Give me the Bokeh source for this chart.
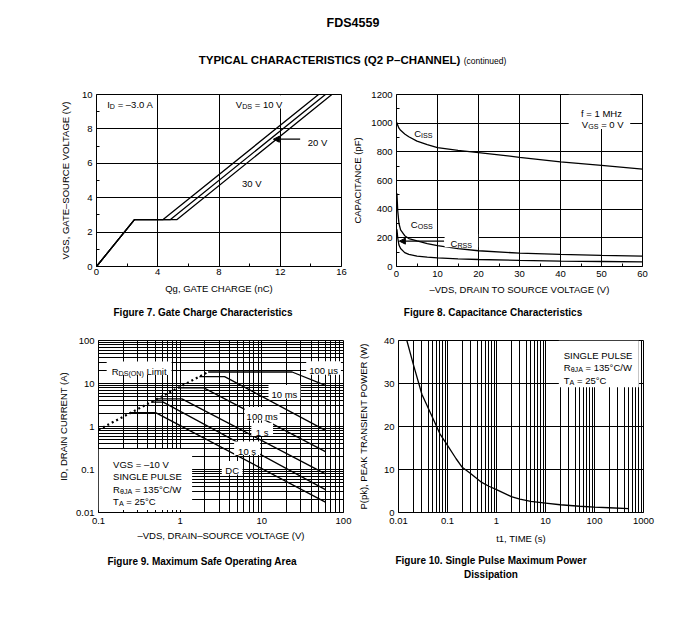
import math
from bokeh.plotting import figure
from bokeh.models import (Range1d, FixedTicker, NumeralTickFormatter, Label,
                          BoxAnnotation, Arrow, NormalHead, Div)
from bokeh.layouts import column, row
from bokeh.embed import file_html
from bokeh.resources import INLINE

FONT = "Liberation Sans"

# ---------------- data ----------------
# Figure 7: gate charge
qg_10v = [0, 2.48, 4.35, 14.5]
qg_20v = [0, 2.48, 4.83, 14.95]
qg_30v = [0, 2.48, 5.26, 15.37]
vgs_gate = [0, 2.73, 2.73, 10]
fig7_xticks = [0, 4, 8, 12, 16]
fig7_xminor = [2, 6, 10, 14]
fig7_yticks = [0, 2, 4, 6, 8, 10]
fig7_yminor = [1, 3, 5, 7, 9]

# Figure 8: capacitance
vds_cap = [0.1, 0.3, 0.6, 1, 2, 3, 5, 7.5, 10, 15, 20, 30, 40, 50, 60]
ciss = [1005, 985, 965, 950, 925, 905, 875, 850, 830, 810, 795, 762, 730, 705, 680]
coss = [510, 390, 300, 255, 215, 195, 178, 160, 145, 125, 110, 93, 84, 77, 72]
crss = [260, 200, 150, 125, 97, 85, 73, 66, 60, 53, 49, 43, 38, 35, 32]
fig8_xticks = [0, 10, 20, 30, 40, 50, 60]
fig8_xminor = [5, 15, 25, 35, 45, 55]
fig8_yticks = [0, 200, 400, 600, 800, 1000, 1200]
fig8_yminor = [100, 300, 500, 700, 900, 1100]

# Figure 9: safe operating area
rds_vds = [0.1, 2.2]
rds_id = [0.84, 18.5]
soa_100us_v = [2.2, 23.5, 60];  soa_100us_i = [18.5, 18.5, 9.0]
soa_10ms_v = [1.72, 3.5, 60];   soa_10ms_i = [14.5, 14.5, 0.81]
soa_100ms_v = [0.94, 1.95, 60]; soa_100ms_i = [7.9, 7.9, 0.26]
soa_1s_v = [0.52, 1.05, 60];    soa_1s_i = [4.4, 4.4, 0.079]
soa_10s_v = [0.44, 0.62, 60];   soa_10s_i = [3.7, 3.7, 0.034]
soa_dc_v = [0.25, 0.5, 60];     soa_dc_i = [2.1, 2.1, 0.0174]
fig9_xticks = [0.1, 1, 10, 100]
fig9_yticks = [0.01, 0.1, 1, 10, 100]

# Figure 10: single pulse power
t_pulse = [0.0148, 0.02, 0.03, 0.05, 0.07, 0.1, 0.15, 0.2, 0.3, 0.5, 0.7,
           1, 2, 3, 5, 10, 20, 50, 100, 200, 500]
p_pk = [40, 34.5, 27.5, 22, 18.3, 15.6, 12.5, 10.5, 9.0, 7.0, 6.1,
        5.3, 3.7, 3.1, 2.6, 2.2, 1.8, 1.45, 1.25, 1.1, 0.9]
fig10_xticks = [0.01, 0.1, 1, 10, 100, 1000]
fig10_yticks = [0, 10, 20, 30, 40]


def log_minor(lo_exp, hi_exp):
    return [m * 10.0 ** e for e in range(lo_exp, hi_exp) for m in range(2, 10)]


# ---------------- helpers ----------------
W = {'A': .667, 'B': .667, 'C': .722, 'D': .722, 'E': .667, 'F': .611, 'G': .778,
     'H': .722, 'I': .278, 'J': .5, 'K': .667, 'L': .556, 'M': .833, 'N': .722,
     'O': .778, 'P': .667, 'Q': .778, 'R': .722, 'S': .667, 'T': .611, 'U': .722,
     'V': .667, 'W': .944, 'X': .667, 'Y': .667, 'Z': .611,
     'a': .556, 'b': .556, 'c': .5, 'd': .556, 'e': .556, 'f': .278, 'g': .556,
     'h': .556, 'i': .222, 'j': .222, 'k': .5, 'l': .222, 'm': .833, 'n': .556,
     'o': .556, 'p': .556, 'q': .556, 'r': .333, 's': .5, 't': .278, 'u': .556,
     'v': .5, 'w': .722, 'x': .5, 'y': .5, 'z': .5, ' ': .278, '.': .278,
     ',': .278, '=': .584, '–': .556, '(': .333, ')': .333, '/': .278,
     '°': .4, 'θ': .556, 'µ': .576}


def tw(s, size):
    return sum(W.get(c, .556) for c in s) * size


class Scale:
    def __init__(self, lo, hi, npx, log=False):
        self.lo, self.hi, self.npx, self.log = lo, hi, npx, log

    def shift(self, v, dpx):
        if self.log:
            return v * 10 ** (dpx * (math.log10(self.hi) - math.log10(self.lo)) / self.npx)
        return v + dpx * (self.hi - self.lo) / self.npx


def pieces(parts, size):
    sub = size * 0.75
    out = []
    off = 0.0
    for t, s in parts:
        fs = sub if s else size
        lead = len(t) - len(t.lstrip(" "))
        txt = t.strip(" ")
        if txt:
            out.append((txt, s, fs, off + lead * W[' '] * fs))
        off += tw(t, fs)
    return out, off


def rich(p, sx, sy, x, y, parts, size=9.5, align="left", backing=False, padx=2, pady=1):
    items, total = pieces(parts, size)
    start = {"left": 0, "center": -total / 2, "right": -total}[align]
    if backing:
        p.add_layout(BoxAnnotation(
            left=sx.shift(x, start - padx), right=sx.shift(x, start + total + padx),
            bottom=sy.shift(y, -size * 0.55 - pady - 1), top=sy.shift(y, size * 0.55 + pady),
            fill_color="white", fill_alpha=1, line_color=None))
    for txt, s, fs, off in items:
        p.add_layout(Label(x=x, y=y, text=txt, x_offset=start + off,
                           y_offset=-0.36 * size - (2.5 if s else 0),
                           text_font=FONT, text_font_size=f"{fs:g}px",
                           text_color="black", text_baseline="alphabetic",
                           text_align="left"))


def make_fig(width, height, left, right, top, bottom, xr, yr, xt="linear", yt="linear"):
    p = figure(width=width, height=height, x_range=Range1d(*xr), y_range=Range1d(*yr),
               x_axis_type=xt, y_axis_type=yt, output_backend="svg",
               toolbar_location=None, min_border_left=left, min_border_right=right,
               min_border_top=top, min_border_bottom=bottom)
    p.outline_line_color = "black"
    p.outline_line_alpha = 1
    p.outline_line_width = 1
    p.background_fill_color = "white"
    p.border_fill_color = "white"
    for ax in p.axis:
        ax.axis_line_color = "black"
        ax.major_tick_in = 0
        ax.major_tick_out = 0
        ax.minor_tick_in = 3
        ax.minor_tick_out = 0
        ax.minor_tick_line_color = "black"
        ax.major_label_text_font = FONT
        ax.major_label_text_font_size = "9.5px"
        ax.major_label_text_color = "black"
        ax.axis_label_text_font = FONT
        ax.axis_label_text_font_size = "9.5px"
        ax.axis_label_text_font_style = "normal"
        ax.axis_label_text_color = "black"
    p.grid.grid_line_color = "black"
    p.grid.grid_line_alpha = 1
    p.grid.grid_line_width = 1
    return p


def set_ticks(p, dim, ticks, minor, fmt=None):
    tk = FixedTicker(ticks=ticks, minor_ticks=minor)
    ax = p.xaxis if dim == 0 else p.yaxis
    gr = p.xgrid if dim == 0 else p.ygrid
    ax.ticker = tk
    gr.ticker = tk
    if fmt is not None:
        ax.formatter = fmt


# ---------------- Figure 7 ----------------
f1 = make_fig(340, 220, 88, 7, 14, 34, (0, 16), (0, 10))
s1x, s1y = Scale(0, 16, 245), Scale(0, 10, 172)
set_ticks(f1, 0, fig7_xticks, fig7_xminor)
set_ticks(f1, 1, fig7_yticks, fig7_yminor)
f1.xaxis.axis_label = "Qg, GATE CHARGE (nC)"
f1.yaxis.axis_label = "VGS, GATE–SOURCE VOLTAGE (V)"
f1.yaxis.major_label_standoff = 4
f1.yaxis.axis_label_standoff = 8
f1.xaxis.major_label_standoff = 2
f1.xaxis.axis_label_standoff = 5
for qx in (qg_10v, qg_20v, qg_30v):
    f1.line(qx, vgs_gate, line_color="black", line_width=1.3)
rich(f1, s1x, s1y, 0.7, 9.6, [("I", 0), ("D", 1), (" = –3.0 A", 0)])
rich(f1, s1x, s1y, 9.1, 9.6, [("V", 0), ("DS", 1), (" = 10 V", 0)], backing=True, padx=3)
rich(f1, s1x, s1y, 13.8, 7.4, [("20 V", 0)])
rich(f1, s1x, s1y, 9.5, 5.0, [("30 V", 0)])
f1.add_layout(Arrow(end=NormalHead(size=6, fill_color="black", line_color="black"),
                    x_start=13.3, y_start=7.4, x_end=11.55, y_end=7.4,
                    line_color="black", line_width=1.2))

# ---------------- Figure 8 ----------------
f2 = make_fig(338, 220, 48, 44, 12, 34, (0, 60), (0, 1200))
s2x, s2y = Scale(0, 60, 246), Scale(0, 1200, 174)
set_ticks(f2, 0, fig8_xticks, fig8_xminor)
set_ticks(f2, 1, fig8_yticks, fig8_yminor)
f2.xaxis.axis_label = "–VDS, DRAIN TO SOURCE VOLTAGE (V)"
f2.yaxis.axis_label = "CAPACITANCE (pF)"
f2.yaxis.major_label_standoff = 4
f2.yaxis.axis_label_standoff = 5
f2.xaxis.major_label_standoff = 4
f2.xaxis.axis_label_standoff = 4
for cap in (ciss, coss, crss):
    f2.line(vds_cap, cap, line_color="black", line_width=1.3)
f2.add_layout(BoxAnnotation(left=42, right=57, bottom=960, top=1200,
                            fill_color="white", fill_alpha=1, line_color=None))
rich(f2, s2x, s2y, 50, 1094, [("f = 1 MHz", 0)], align="center")
rich(f2, s2x, s2y, 50.3, 1014, [("V", 0), ("GS", 1), (" = 0 V", 0)], align="center")
rich(f2, s2x, s2y, 4.3, 950, [("C", 0), ("ISS", 1)], backing=True)
rich(f2, s2x, s2y, 3.5, 318, [("C", 0), ("OSS", 1)], backing=True, padx=4)
rich(f2, s2x, s2y, 13.2, 184, [("C", 0), ("RSS", 1)], backing=True, padx=6)
f2.add_layout(Arrow(end=NormalHead(size=6, fill_color="black", line_color="black"),
                    x_start=11.6, y_start=177, x_end=0.7, y_end=177,
                    line_color="black", line_width=1.2))

# ---------------- Figure 9 ----------------
f3 = make_fig(346, 220, 90, 11, 10, 38, (0.1, 100), (0.01, 100), "log", "log")
s3x, s3y = Scale(0.1, 100, 245, True), Scale(0.01, 100, 172, True)
set_ticks(f3, 0, fig9_xticks, log_minor(-1, 2), NumeralTickFormatter(format="0.[00]"))
set_ticks(f3, 1, fig9_yticks, log_minor(-2, 2), NumeralTickFormatter(format="0.[00]"))
f3.xgrid.minor_grid_line_color = "black"
f3.ygrid.minor_grid_line_color = "black"
f3.xaxis.minor_tick_in = 0
f3.yaxis.minor_tick_in = 0
f3.xaxis.axis_label = "–VDS, DRAIN–SOURCE VOLTAGE (V)"
f3.yaxis.axis_label = "ID, DRAIN CURRENT (A)"
f3.yaxis.major_label_standoff = 4
f3.yaxis.axis_label_standoff = 4
f3.xaxis.major_label_standoff = 5
f3.xaxis.axis_label_standoff = 3
f3.line(rds_vds, rds_id, line_color="black", line_width=2.2, line_dash="2 3")
for vv, ii in ((soa_100us_v, soa_100us_i), (soa_10ms_v, soa_10ms_i),
               (soa_100ms_v, soa_100ms_i), (soa_1s_v, soa_1s_i),
               (soa_10s_v, soa_10s_i), (soa_dc_v, soa_dc_i)):
    f3.line(vv, ii, line_color="black", line_width=1.3)
rich(f3, s3x, s3y, 0.145, 23.2, [("R", 0), ("DS(ON)", 1), (" Limit", 0)], backing=True, padx=5)
rich(f3, s3x, s3y, 57, 23.5, [("100 µs", 0)], align="center", backing=True, padx=3)
rich(f3, s3x, s3y, 18.9, 6.6, [("10 ms", 0)], align="center", backing=True, padx=3)
rich(f3, s3x, s3y, 10.1, 2.04, [("100 ms", 0)], align="center", backing=True, padx=2)
rich(f3, s3x, s3y, 10.1, 0.88, [("1 s", 0)], align="center", backing=True, padx=4.5)
rich(f3, s3x, s3y, 6.6, 0.32, [("10 s", 0)], align="center", backing=True, padx=4)
rich(f3, s3x, s3y, 4.33, 0.113, [("DC", 0)], align="center", backing=True, padx=3.5)
f3.add_layout(BoxAnnotation(left=0.1, right=1.4, bottom=0.0115, top=0.30,
                            fill_color="white", fill_alpha=1, line_color=None))
rich(f3, s3x, s3y, 0.151, 0.16, [("VGS = –10 V", 0)])
rich(f3, s3x, s3y, 0.151, 0.082, [("SINGLE PULSE", 0)])
rich(f3, s3x, s3y, 0.151, 0.042, [("R", 0), ("θJA", 1), (" = 135°C/W", 0)])
rich(f3, s3x, s3y, 0.151, 0.0222, [("T", 0), ("A", 1), (" = 25°C", 0)])

# ---------------- Figure 10 ----------------
f4 = make_fig(332, 220, 44, 43, 10, 38, (0.01, 1000), (0, 40), "log", "linear")
s4x, s4y = Scale(0.01, 1000, 245, True), Scale(0, 40, 172)
set_ticks(f4, 0, fig10_xticks, log_minor(-2, 3), NumeralTickFormatter(format="0.[00]"))
set_ticks(f4, 1, fig10_yticks, [])
f4.xgrid.minor_grid_line_color = "black"
f4.xaxis.minor_tick_in = 0
f4.xaxis.axis_label = "t1, TIME (s)"
f4.yaxis.axis_label = "P(pk), PEAK TRANSIENT POWER (W)"
f4.yaxis.major_label_standoff = 4
f4.yaxis.axis_label_standoff = 12
f4.xaxis.major_label_standoff = 5
f4.xaxis.axis_label_standoff = 6
f4.line(t_pulse, p_pk, line_color="black", line_width=1.3)
f4.add_layout(BoxAnnotation(left=18.7, right=801, bottom=29.1, top=40,
                            fill_color="white", fill_alpha=1, line_color=None))
rich(f4, s4x, s4y, 23.6, 37.3, [("SINGLE PULSE", 0)])
rich(f4, s4x, s4y, 23.6, 34.6, [("R", 0), ("θJA", 1), (" = 135°C/W", 0)])
rich(f4, s4x, s4y, 23.6, 31.6, [("T", 0), ("A", 1), (" = 25°C", 0)])

# ---------------- text blocks ----------------
BASE = "font-family:'Liberation Sans',Arial,sans-serif;color:#000;"
header = Div(width=678, height=72, margin=0, text=f"""
<div style="position:relative;width:678px;height:72px;{BASE}">
 <div style="position:absolute;left:0;top:8px;width:690px;text-align:center;font-weight:bold;font-size:12.5px;line-height:15px;white-space:nowrap;">FDS4559</div>
 <div style="position:absolute;left:0;top:45px;width:689px;text-align:center;line-height:14px;white-space:nowrap;"><span style="font-weight:bold;font-size:11.5px;">TYPICAL CHARACTERISTICS (Q2 P–CHANNEL)</span> <span style="font-size:8.5px;">(continued)</span></div>
</div>""")

cap1 = Div(width=678, height=30, margin=0, text=f"""
<div style="position:relative;width:678px;height:30px;{BASE}font-weight:bold;font-size:10px;line-height:12px;">
 <div style="position:absolute;left:0;top:7px;width:390px;text-align:center;white-space:nowrap;">Figure 7. Gate Charge Characteristics</div>
 <div style="position:absolute;left:346px;top:7px;width:278px;text-align:center;white-space:nowrap;">Figure 8. Capacitance Characteristics</div>
</div>""")

cap2 = Div(width=678, height=40, margin=0, text=f"""
<div style="position:relative;width:678px;height:40px;{BASE}font-weight:bold;font-size:10px;line-height:14px;">
 <div style="position:absolute;left:0;top:5px;width:388px;text-align:center;white-space:nowrap;">Figure 9. Maximum Safe Operating Area</div>
 <div style="position:absolute;left:346px;top:4px;width:274px;text-align:center;">Figure 10. Single Pulse Maximum Power<br>Dissipation</div>
</div>""")

layout = column(header, row(f1, f2), cap1, row(f3, f4), cap2, margin=(8, 0, 0, 8))

with open("out.html", "w") as fh:
    fh.write(file_html(layout, INLINE, title="FDS4559"))
